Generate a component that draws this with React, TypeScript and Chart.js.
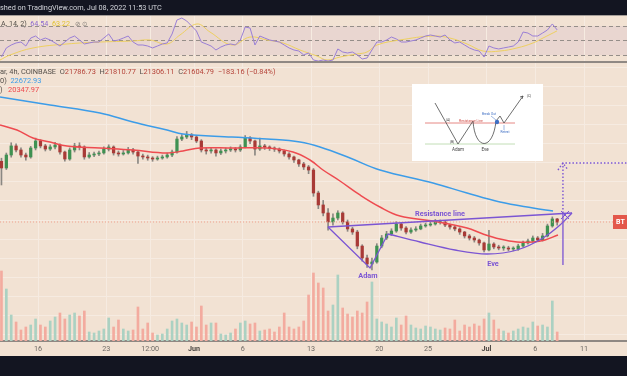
import { useEffect, useRef } from 'react';
import { Chart, registerables } from 'chart.js';
Chart.register(...registerables);

// ---------------- data (x = days counted from May 1 00:00, i.e. day 15 = May 16) ----------------
const candleStartDay = 11.25; // first 12h candle centre
const candleStepDays = 0.5;
const firstOpen = 27500;
const closes = [
  26850, 28110, 28990, 28600, 28110, 27920, 28790, 29470, 28990, 28690,
  28890, 29080, 28400, 27720, 28600, 28990, 28890, 27920, 28110, 28210,
  28310, 28690, 28890, 28310, 28210, 28310, 28600, 28400, 28010, 27920,
  27820, 27720, 27820, 27920, 28110, 28400, 29660, 29860, 30050, 29860,
  29470, 28600, 28500, 28600, 28310, 28500, 28600, 28690, 28600, 28890,
  29760, 29470, 28690, 28990, 28890, 28790, 28690, 28500, 28210, 27920,
  27630, 27240, 26950, 26650, 24420, 23260, 22480, 21610, 21990, 22480,
  21610, 20930, 20630, 19270, 18110, 17530, 17720, 19270, 20050, 20440,
  20730, 21410, 21020, 20630, 20830, 20930, 21220, 21310, 21410, 21610,
  21610, 21310, 21120, 20930, 20630, 20250, 20050, 19860, 19570, 18890,
  19470, 19180, 19080, 19080, 18980, 18980, 19270, 19570, 19760, 20050,
  19860, 20250, 21220, 21900, 21605,
];
const highs = [
  27800, 28300, 29300, 29200, 28800, 28300, 28950, 29750, 29600, 29150,
  29100, 29350, 29200, 28500, 28800, 29250, 29300, 29000, 28350, 28400,
  28500, 28900, 29100, 29000, 28500, 28550, 28850, 28750, 28500, 28200,
  28100, 27950, 28000, 28100, 28300, 28600, 29900, 30100, 30400, 30200,
  30000, 29600, 28800, 28850, 28700, 28700, 28800, 28900, 28850, 29100,
  30000, 29900, 29550, 29750, 29150, 29000, 28900, 28800, 28600, 28350,
  28000, 27700, 27400, 27100, 26800, 24600, 23700, 22900, 22400, 22700,
  22600, 21800, 21100, 20800, 19400, 18400, 18100, 19500, 20300, 20700,
  20950, 21650, 21500, 21150, 21050, 21150, 21400, 21500, 21600, 21850,
  21800, 21700, 21400, 21250, 21050, 20700, 20400, 20200, 19950, 19650,
  20800, 19600, 19350, 19300, 19250, 19200, 19450, 19750, 19950, 20250,
  20200, 20500, 21400, 22100, 21960,
];
const lows = [
  25200, 26700, 27900, 28400, 27900, 27600, 27800, 28600, 28800, 28500,
  28550, 28700, 28200, 27500, 27600, 28400, 28600, 27700, 27800, 27950,
  28050, 28200, 28500, 28100, 28000, 28100, 28200, 28200, 27300, 27700,
  27600, 27500, 27600, 27700, 27800, 27950, 28300, 29500, 29700, 29600,
  29300, 28400, 28200, 28300, 28000, 28150, 28300, 28450, 28400, 28450,
  28800, 29200, 28100, 28550, 28650, 28550, 28450, 28300, 28000, 27700,
  27400, 27000, 26700, 26300, 24100, 22900, 22200, 20800, 21300, 21800,
  21400, 20700, 20400, 19000, 17800, 17200, 16950, 17600, 19100, 19900,
  20300, 20600, 20800, 20450, 20500, 20700, 20850, 21100, 21200, 21300,
  21400, 21150, 20900, 20750, 20400, 20050, 19850, 19650, 19350, 18700,
  18800, 19000, 18900, 18850, 18800, 18800, 18850, 19150, 19450, 19650,
  19700, 19750, 20150, 21100, 21300,
];
const volumes = [
  7000, 5200, 2600, 1900, 1100, 1400, 1600, 2200, 1600, 1400,
  2000, 2400, 2800, 2200, 2600, 2800, 2500, 3000, 900, 800,
  1000, 1200, 2300, 1400, 2100, 1200, 1000, 1100, 3400, 1200,
  1800, 800, 600, 700, 1200, 2000, 2200, 1800, 1600, 1900,
  1400, 3500, 1600, 1800, 1800, 700, 600, 800, 1200, 1800,
  2000, 1700, 1800, 1000, 1100, 1200, 900, 1400, 2800, 1400,
  1200, 1400, 2000, 4600, 6800, 5800, 5300, 3000, 3600, 6600,
  3300, 2700, 2400, 3000, 2800, 3900, 5900, 2200, 1900, 1700,
  1400, 2300, 1600, 2500, 1600, 1300, 1200, 1500, 1400, 1200,
  1100, 1300, 1200, 2100, 1000, 1600, 1400, 1700, 1500, 2200,
  2800, 2100, 1200, 1000, 800, 1000, 1200, 1400, 1300, 1900,
  1500, 1600, 1400, 4000, 900,
];
const rsiValues = [
  27.2, 39.7, 43.8, 46.6, 47.9, 42.4, 53.4, 56.2, 50.7, 53.4,
  50.7, 46.6, 42.4, 47.9, 53.4, 56.2, 50.7, 45.2, 46.6, 47.9,
  47.9, 53.4, 59.0, 49.3, 50.7, 53.4, 56.2, 47.9, 43.8, 43.8,
  42.4, 39.7, 42.4, 45.2, 46.6, 59.0, 78.3, 81.0, 76.9, 70.0,
  63.1, 47.9, 45.2, 42.4, 36.9, 41.0, 43.8, 45.2, 43.8, 50.7,
  68.6, 67.2, 43.8, 56.2, 53.4, 50.7, 49.3, 47.9, 43.8, 39.7,
  36.9, 35.5, 30.0, 32.8, 23.1, 21.7, 23.1, 21.7, 23.1, 38.3,
  34.1, 32.8, 34.1, 30.0, 24.5, 25.9, 36.9, 47.9, 47.9, 50.7,
  54.8, 52.1, 47.9, 47.9, 49.3, 50.7, 53.4, 56.2, 57.6, 56.2,
  54.8, 57.6, 50.7, 46.6, 47.9, 43.8, 39.7, 36.9, 35.5, 27.2,
  42.4, 39.7, 38.3, 39.7, 41.0, 42.4, 47.9, 61.7, 60.3, 56.2,
  56.2, 60.3, 64.5, 72.8, 64.54,
];
const rsiMaDays = [11.1, 12.13, 14.48, 17.97, 21.36, 24.74, 26.48, 28.23, 29.56, 31.31, 32.64, 34.9, 36.74, 38.48, 40.13, 41.87, 43.61, 44.64, 45.97, 47.72, 48.74, 49.77, 52.13, 55.51, 57.25, 59.0, 60.64, 62.38, 64.13, 65.77, 66.79, 68.23];
const rsiMaValues = [23.1, 30.0, 39.7, 45.2, 47.9, 49.3, 50.7, 45.2, 57.6, 72.8, 61.7, 43.8, 54.8, 50.7, 46.6, 36.9, 28.6, 23.1, 27.2, 31.4, 34.1, 43.8, 50.7, 56.2, 53.4, 45.2, 35.5, 35.5, 39.7, 46.6, 53.4, 63.22];
const ma200Days = [11.1, 16.23, 21.36, 24.74, 28.23, 29.87, 34.9, 38.48, 41.87, 43.92, 47.0, 50.07, 55.51, 59.0, 62.38, 65.77, 67.82];
const ma200Values = [33743, 32966, 32189, 31315, 30538, 30150, 29859, 29664, 29373, 28888, 27819, 26654, 25392, 24421, 23547, 22964, 22672.93];
const ma50Days = [11.1, 12.84, 14.48, 16.23, 17.97, 21.36, 24.74, 28.23, 29.87, 31.61, 34.9, 38.48, 41.15, 42.89, 44.23, 45.97, 48.02, 50.07, 52.13, 55.51, 59.0, 60.64, 62.38, 64.13, 65.77, 67.0, 68.33];
const ma50Values = [31024, 30538, 29761, 29373, 28985, 28790, 28596, 28305, 28500, 28790, 28790, 28790, 28402, 27625, 26654, 25586, 24227, 23062, 22188, 21702, 21022, 20440, 19954, 19663, 19663, 19857, 20347.97];
const tickDays = [15, 22, 26.5, 31, 36, 43, 50, 55, 61, 66, 71];
const tickLabels = ['16', '23', '12:00', 'Jun', '6', '13', '20', '25', 'Jul', '6', '11'];

// pattern drawings (days, prices)
const resistanceDays = [44.74, 69.77];
const resistancePrices = [21120, 22479];
const adamDays = [44.74, 49.05, 50.89];
const adamPrices = [21120, 17140, 20440];
const eveDays = [50.89, 54.18, 57.77, 61.05, 64.13, 66.79, 68.54, 69.77];
const evePrices = [20440, 19663, 18886, 18498, 18886, 20051, 21314, 22479];
const targetDays = [68.84, 68.84];
const targetPrices = [22479, 17430];
const projDays = [68.84, 68.84, 75.41];
const projPrices = [22479, 27334, 27334];
const arrowDays = [68.33, 68.84, 69.36];
const arrowPrices = [26654, 27334, 26654];
const cross1Days = [68.64, 69.46];
const cross1Prices = [22673, 21896];
const cross2Days = [68.64, 69.46];
const cross2Prices = [21896, 22673];
const annotationTexts = ['Resistance line', 'Adam', 'Eve'];
const annotationDays = [56.23, 48.84, 61.66];
const annotationPrices = [22382, 16362, 17527];

// ---------------- layout / style ----------------
const W = 627, H = 376;
const X_MIN = 11.1, X_MAX = 75.41;
const PRICE_MIN = 10050, PRICE_MAX = 43161;
const RSI_MIN = -364.48, RSI_MAX = 105.86;
const VOL_MAX = 34100;
const GRID_ANCHOR = 19954, GRID_STEP = 1845;
const gridPrices: number[] = [];
for (let v = GRID_ANCHOR - 6 * GRID_STEP; v < 37000; v += GRID_STEP) if (v > 10250) gridPrices.push(v);

const FONT = 'Roboto, "DejaVu Sans", sans-serif';
const BG = '#f2e2d3';
const BAND = '#e9d6d0';
const GRID = '#f6ebe1';
const DARK = '#131521';
const UP = '#3f9152';
const DOWN = '#a83a36';
const WICK = '#8a8782';
const VOL_UP = '#abd1c2';
const VOL_DOWN = '#f3ab9f';
const BLUE = '#3c9ce8';
const RED = '#ee4b50';
const PURPLE = '#7b55d3';
const RSI_COL = '#9a7fd6';
const RSI_MA_COL = '#eed060';
const TEXT_DARK = '#55504b';
const VAL_RED = '#b5443a';

const opens = closes.map((_, i) => (i === 0 ? firstOpen : closes[i - 1]));
const days = closes.map((_, i) => candleStartDay + i * candleStepDays);
const isUp = closes.map((c, i) => c >= opens[i]);
const pts = (xs: number[], ys: number[]) => xs.map((x, i) => ({ x, y: ys[i] }));

function drawText(ctx: CanvasRenderingContext2D, s: string, x: number, y: number, color: string, size: number, weight = 'normal', align: CanvasTextAlign = 'left') {
  ctx.font = `${weight} ${size}px ${FONT}`;
  ctx.fillStyle = color;
  ctx.textAlign = align;
  ctx.textBaseline = 'middle';
  ctx.fillText(s, x, y);
  return ctx.measureText(s).width;
}
function drawParts(ctx: CanvasRenderingContext2D, parts: [string, string][], x: number, y: number, size: number) {
  let cx = x;
  for (const [s, c] of parts) cx += drawText(ctx, s, cx, y, c, size);
}

function drawInset(ctx: CanvasRenderingContext2D, ox: number, oy: number) {
  ctx.save();
  ctx.fillStyle = '#ffffff';
  ctx.fillRect(ox, oy, 131, 77);
  ctx.lineWidth = 0.8;
  ctx.strokeStyle = '#e06a66';
  ctx.beginPath(); ctx.moveTo(ox + 13, oy + 39); ctx.lineTo(ox + 103, oy + 39); ctx.stroke();
  ctx.strokeStyle = '#b3d6a3';
  ctx.beginPath(); ctx.moveTo(ox + 13, oy + 60); ctx.lineTo(ox + 103, oy + 60); ctx.stroke();
  ctx.strokeStyle = '#4a4a4a';
  ctx.beginPath();
  ctx.moveTo(ox + 23, oy + 19); ctx.lineTo(ox + 46, oy + 60); ctx.lineTo(ox + 61, oy + 37);
  ctx.bezierCurveTo(ox + 63, oy + 67, ox + 81, oy + 67, ox + 84, oy + 37);
  ctx.lineTo(ox + 88, oy + 32); ctx.lineTo(ox + 92, oy + 39); ctx.lineTo(ox + 111, oy + 12);
  ctx.stroke();
  ctx.beginPath(); ctx.moveTo(ox + 108, oy + 13); ctx.lineTo(ox + 111, oy + 12); ctx.lineTo(ox + 110, oy + 15); ctx.stroke();
  ctx.fillStyle = '#3f6fc4';
  ctx.beginPath(); ctx.arc(ox + 85, oy + 38, 2.2, 0, Math.PI * 2); ctx.fill();
  ctx.strokeStyle = '#3f6fc4'; ctx.lineWidth = 0.5;
  ctx.beginPath(); ctx.moveTo(ox + 79, oy + 32); ctx.lineTo(ox + 84, oy + 36); ctx.stroke();
  ctx.beginPath(); ctx.moveTo(ox + 92, oy + 46); ctx.lineTo(ox + 92, oy + 41); ctx.stroke();
  drawText(ctx, 'Break Out', ox + 77, oy + 30, '#3f6fc4', 3.2, 'normal', 'center');
  drawText(ctx, 'Retest', ox + 93, oy + 48, '#3f6fc4', 3.2, 'normal', 'center');
  drawText(ctx, 'Resistance Line', ox + 59, oy + 37, '#d04a44', 3.4, 'normal', 'center');
  drawText(ctx, '(A)', ox + 36, oy + 36, '#444', 3.4, 'normal', 'center');
  drawText(ctx, '(B)', ox + 40, oy + 58, '#444', 3.4, 'normal', 'center');
  drawText(ctx, '(C)', ox + 117, oy + 12, '#444', 3.4, 'normal', 'center');
  drawText(ctx, 'Adam', ox + 46, oy + 66, '#444', 4.6, 'normal', 'center');
  drawText(ctx, 'Eve', ox + 73, oy + 66, '#444', 4.6, 'normal', 'center');
  ctx.restore();
}

const decorPlugin = {
  id: 'decor',
  beforeDraw(chart: any) {
    const ctx = chart.ctx as CanvasRenderingContext2D;
    const rsi = chart.scales.rsi;
    ctx.save();
    ctx.fillStyle = BG;
    ctx.fillRect(0, 0, W, H);
    const y70 = rsi.getPixelForValue(70), y30 = rsi.getPixelForValue(30);
    ctx.fillStyle = BAND;
    ctx.fillRect(0, y70, W, y30 - y70);
    ctx.restore();
  },
  beforeDatasetsDraw(chart: any) {
    const ctx = chart.ctx as CanvasRenderingContext2D;
    const rsi = chart.scales.rsi;
    ctx.save();
    ctx.strokeStyle = '#958e89';
    ctx.lineWidth = 1;
    ctx.setLineDash([4, 3]);
    for (const v of [70, 50, 30]) {
      const y = Math.round(rsi.getPixelForValue(v)) + 0.5;
      ctx.beginPath(); ctx.moveTo(0, y); ctx.lineTo(W, y); ctx.stroke();
    }
    ctx.restore();
  },
  afterDatasetsDraw(chart: any) {
    const ctx = chart.ctx as CanvasRenderingContext2D;
    const x = chart.scales.x, price = chart.scales.price, rsi = chart.scales.rsi;
    ctx.save();
    const yb = rsi.getPixelForValue(21.7);
    ctx.fillStyle = '#8f8883';
    ctx.fillRect(0, yb, W, 2);
    annotationTexts.forEach((t, i) => {
      drawText(ctx, t, x.getPixelForValue(annotationDays[i]), price.getPixelForValue(annotationPrices[i]), PURPLE, 7.3, 'bold', 'center');
    });
    const yl = price.getPixelForValue(closes[closes.length - 1]);
    ctx.fillStyle = '#e3574a';
    ctx.fillRect(613, yl - 7, 14, 14);
    drawText(ctx, 'BT', 616, yl + 0.5, '#ffffff', 7, 'bold');
    drawInset(ctx, 412, 84);
    drawParts(ctx, [['A, 14, 2)  ', TEXT_DARK], ['64.54  ', '#8d6ad0'], ['63.22', '#e3c232']], 1, 24, 7.2);
    drawText(ctx, '⊘ ⊙', 75, 24, '#8a837e', 6.5);
    drawParts(ctx, [
      ['ar, 4h, COINBASE  ', TEXT_DARK], ['O', TEXT_DARK], ['21786.73  ', VAL_RED], ['H', TEXT_DARK], ['21810.77  ', VAL_RED],
      ['L', TEXT_DARK], ['21306.11  ', VAL_RED], ['C', TEXT_DARK], ['21604.79  ', VAL_RED], ['−183.16 (−0.84%)', VAL_RED],
    ], 0, 72, 7.4);
    drawParts(ctx, [['0)  ', TEXT_DARK], ['22672.93', BLUE]], 0, 81, 7.4);
    drawParts(ctx, [[')   ', TEXT_DARK], ['20347.97', RED]], 0, 90, 7.4);
    ctx.restore();
  },
  afterDraw(chart: any) {
    const ctx = chart.ctx as CanvasRenderingContext2D;
    ctx.save();
    ctx.fillStyle = DARK;
    ctx.fillRect(0, 0, W, 15);
    ctx.fillRect(0, 356, W, H - 356);
    ctx.fillStyle = '#a59e99';
    ctx.fillRect(0, 15, W, 1);
    drawText(ctx, 'shed on TradingView.com, Jul 08, 2022 11:53 UTC', 0, 8, '#d3d5db', 7.3);
    ctx.restore();
  },
};

const lineDs = (data: any[], color: string, width: number, order: number, extra: any = {}) => ({
  type: 'line' as const, data, borderColor: color, borderWidth: width, pointRadius: 0, fill: false,
  yAxisID: 'price', xAxisID: 'x', order, ...extra,
});

export default function App() {
  const ref = useRef<HTMLCanvasElement | null>(null);
  useEffect(() => {
    document.body.style.margin = '0';
    const canvas = ref.current!;
    const chart = new Chart(canvas, {
      type: 'bar',
      data: {
        datasets: [
          {
            type: 'bar', data: days.map((d, i) => ({ x: d, y: volumes[i] })), yAxisID: 'vol', xAxisID: 'x',
            backgroundColor: isUp.map((u) => (u ? VOL_UP : VOL_DOWN)), barThickness: 2, grouped: false, order: 20,
          } as any,
          {
            type: 'bar', data: days.map((d, i) => ({ x: d, y: [lows[i], highs[i]] })), yAxisID: 'price', xAxisID: 'x',
            backgroundColor: WICK, barThickness: 1, grouped: false, order: 15,
          } as any,
          {
            type: 'bar', data: days.map((d, i) => ({ x: d, y: [opens[i], closes[i]] })), yAxisID: 'price', xAxisID: 'x',
            backgroundColor: isUp.map((u) => (u ? UP : DOWN)), barThickness: 2.6, minBarLength: 1, grouped: false, order: 14,
          } as any,
          lineDs([{ x: X_MIN, y: closes[closes.length - 1] }, { x: X_MAX, y: closes[closes.length - 1] }], '#efa08f', 1, 13, { borderDash: [1, 2] }),
          lineDs(pts(ma50Days, ma50Values), RED, 1.5, 12, { tension: 0.4 }),
          lineDs(pts(ma200Days, ma200Values), BLUE, 1.5, 11, { tension: 0.4 }),
          lineDs(pts(rsiMaDays, rsiMaValues), RSI_MA_COL, 1, 10, { tension: 0.4, yAxisID: 'rsi' }),
          lineDs(days.map((d, i) => ({ x: d, y: rsiValues[i] })), RSI_COL, 1, 9, { yAxisID: 'rsi' }),
          lineDs(pts(resistanceDays, resistancePrices), PURPLE, 1.3, 5),
          lineDs(pts(adamDays, adamPrices), PURPLE, 1.3, 5),
          lineDs(pts(eveDays, evePrices), PURPLE, 1.3, 5, { cubicInterpolationMode: 'monotone' }),
          lineDs(pts(targetDays, targetPrices), PURPLE, 1.3, 5),
          lineDs(pts(projDays, projPrices), PURPLE, 1.4, 5, { borderDash: [1.5, 2] }),
          lineDs(pts(arrowDays, arrowPrices), PURPLE, 1.4, 5, { borderDash: [1.5, 2] }),
          lineDs(pts(cross1Days, cross1Prices), PURPLE, 1, 5),
          lineDs(pts(cross2Days, cross2Prices), PURPLE, 1, 5),
        ] as any,
      },
      options: {
        responsive: false,
        animation: false,
        devicePixelRatio: 1,
        layout: { padding: 0 },
        plugins: { legend: { display: false }, tooltip: { enabled: false } },
        scales: {
          x: {
            type: 'linear', min: X_MIN, max: X_MAX, position: 'bottom', offset: false,
            grid: { color: GRID, drawTicks: false, offset: false, lineWidth: 1 },
            border: { color: '#8f8883', width: 2 },
            ticks: {
              padding: 4, autoSkip: false, maxRotation: 0,
              color: (c: any) => (c.tick && (c.tick.value === 31 || c.tick.value === 61) ? '#4a4541' : '#6e6964'),
              font: (c: any) => ({ family: FONT, size: 7.2, weight: c.tick && (c.tick.value === 31 || c.tick.value === 61) ? 'bold' : 'normal' }),
              callback: (v: any) => { const k = tickDays.indexOf(Number(v)); return k >= 0 ? tickLabels[k] : ''; },
            },
            afterBuildTicks: (s: any) => { s.ticks = tickDays.map((v) => ({ value: v })); },
            afterFit: (s: any) => { s.height = 35; },
          },
          price: {
            axis: 'y', type: 'linear', position: 'left', min: PRICE_MIN, max: PRICE_MAX,
            grid: { color: GRID, drawTicks: false, lineWidth: 1 },
            border: { display: false }, ticks: { display: false },
            afterBuildTicks: (s: any) => { s.ticks = gridPrices.map((v) => ({ value: v })); },
            afterFit: (s: any) => { s.width = 0; },
          },
          rsi: { axis: 'y', type: 'linear', display: false, min: RSI_MIN, max: RSI_MAX },
          vol: { axis: 'y', type: 'linear', display: false, min: 0, max: VOL_MAX },
        } as any,
      },
      plugins: [decorPlugin as any],
    });
    return () => chart.destroy();
  }, []);
  return (
    <canvas ref={ref} width={W} height={H} style={{ position: 'fixed', left: 0, top: 0, display: 'block' }} />
  );
}
